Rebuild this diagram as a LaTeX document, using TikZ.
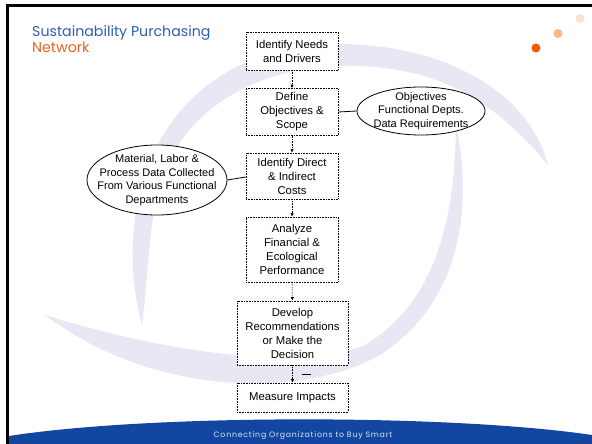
\documentclass[tikz,border=0pt]{standalone}
\usepackage{fontspec}
\setmainfont{Liberation Sans}
\newfontfamily\gothic{Poppins}
\newfontfamily\footfont[LetterSpace=10]{Poppins}
\usetikzlibrary{shapes.geometric,arrows.meta}
\definecolor{swoosh}{HTML}{E8E8F5}
\definecolor{bandblue}{HTML}{1246A0}
\definecolor{titleblue}{HTML}{2F5EAC}
\definecolor{titleorange}{HTML}{E8621A}
\definecolor{dotA}{HTML}{F05A00}
\definecolor{dotB}{HTML}{F8B88A}
\definecolor{dotC}{HTML}{FBE3CE}
\definecolor{foottext}{HTML}{DCE4F2}
\begin{document}
\begin{tikzpicture}[x=1pt,y=-1pt,
  flowbox/.style={draw, densely dotted, line width=0.6pt, fill=white, align=center,
    font=\fontsize{11.3}{14}\selectfont, inner sep=0pt},
  bubble/.style={draw, ellipse, line width=0.8pt, fill=white, align=center,
    font=\fontsize{11}{13.5}\selectfont},
  flowarrow/.style={densely dotted, line width=0.6pt, -{Latex[length=3.5pt,width=3.2pt]}},
  link/.style={line width=0.8pt},
  title/.style={anchor=base west, inner sep=0pt, font=\gothic\fontsize{14.2}{16}\selectfont}]
\useasboundingbox (0,0) rectangle (592,444);
\fill[white] (0,0) rectangle (592,444);
% background swooshes
\fill[swoosh] (548,165) .. controls (530,95) and (450,45) .. (340,44)
  .. controls (245,43) and (160,95) .. (138,200)
  .. controls (128,250) and (133,290) .. (142,325)
  .. controls (148,280) and (148,235) .. (158,190)
  .. controls (180,110) and (255,68) .. (340,66)
  .. controls (430,64) and (490,95) .. (548,165) -- cycle;
\fill[swoosh] (456,125) .. controls (472,200) and (465,300) .. (380,355)
  .. controls (300,400) and (150,395) .. (45,315)
  .. controls (140,345) and (290,375) .. (365,345)
  .. controls (440,300) and (455,210) .. (456,125) -- cycle;
% footer band
\fill[bandblue] (9,444) -- (9,436) .. controls (150,414) and (450,414) .. (592,435) -- (592,444) -- cycle;
\node[font=\footfont\fontsize{7.8}{9}\selectfont, text=foottext, inner sep=0pt] (foot) at (303,436) {Connecting Organizations to Buy Smart};
% frame
\draw[line width=3pt] (7.5,444) -- (7.5,5.5) -- (592,5.5);
% dots
\fill[dotA] (536,48) circle (4.5);
\fill[dotB] (558,33.5) circle (4.5);
\fill[dotC] (580,18.5) circle (4.5);
% title
\node[title, text=titleblue] (t1) at (32,37) {Sustainability Purchasing};
\node[title, text=titleorange] (t2) at (32,53) {Network};
% flow boxes
\node[flowbox, minimum width=92, minimum height=38] (b1) at (292,51) {Identify Needs\\and Drivers};
\node[flowbox, minimum width=92, minimum height=47] (b2) at (292,112) {Define\\Objectives \&\\Scope};
\node[flowbox, minimum width=92, minimum height=46] (b3) at (292,176) {Identify Direct\\\& Indirect\\Costs};
\node[flowbox, minimum width=92, minimum height=65] (b4) at (292,249.5) {Analyze\\Financial \&\\Ecological\\Performance};
\node[flowbox, minimum width=111, minimum height=64] (b5) at (292.5,333) {Develop\\Recommendations\\or Make the\\Decision};
\node[flowbox, minimum width=111, minimum height=29] (b6) at (292.5,397.5) {Measure Impacts};
% ellipses
\node[bubble, inner xsep=-10pt, inner ysep=-2pt, minimum width=128, minimum height=48] (e1) at (421,111) {Objectives\\Functional Depts.\\Data Requirements};
\node[bubble, inner xsep=-14pt, inner ysep=-4pt, minimum width=140, minimum height=70] (e2) at (157,180) {Material, Labor \&\\Process Data Collected\\From Various Functional\\Departments};
% arrows
\draw[flowarrow] (b1) -- (b2);
\draw[flowarrow] (b2) -- (b3);
\draw[flowarrow] (b3) -- (b4);
\draw[flowarrow] (b4) -- (b5);
\draw[flowarrow] (b5) -- (b6);
% links
\draw[link] (b2.east) -- (e1.west);
\draw[link] (e2.east) -- ([yshift=-1pt]b3.west);
% stray dash
\coordinate (d1) at (302,374.5);
\coordinate (d2) at (311,374.5);
\draw[line width=0.7pt] (d1) -- (d2);
\end{tikzpicture}
\end{document}
